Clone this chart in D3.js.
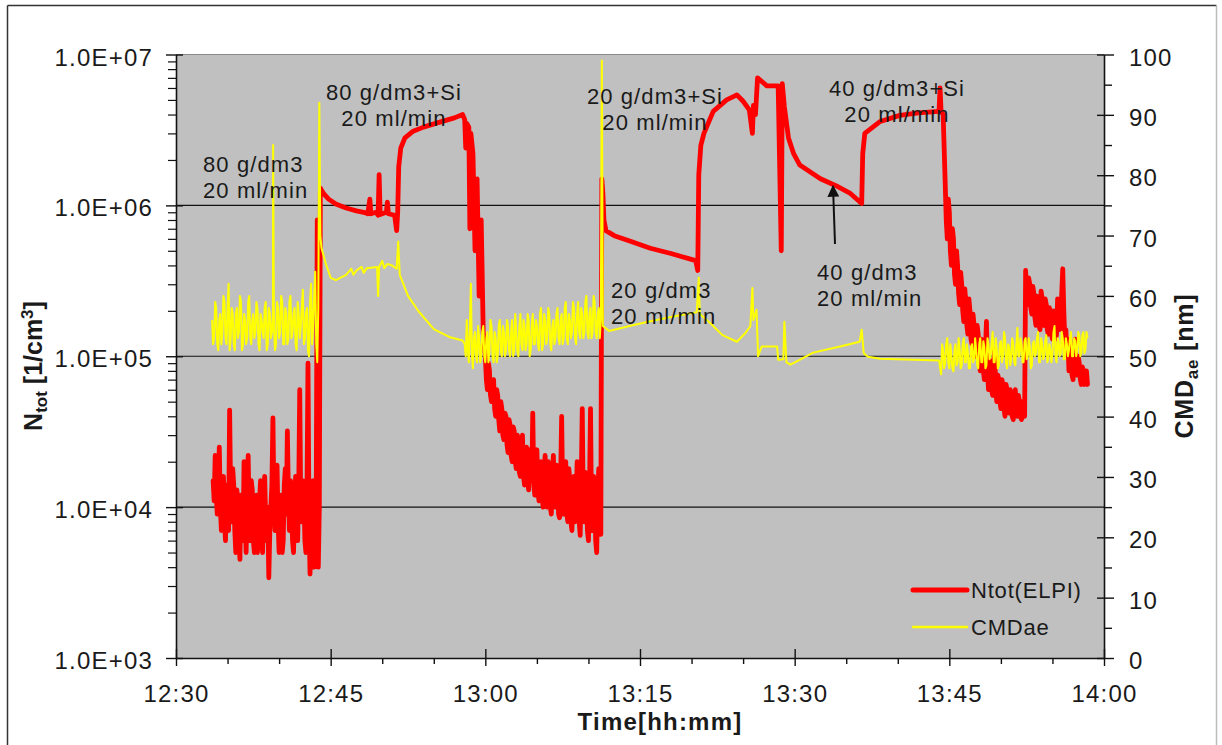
<!DOCTYPE html>
<html>
<head>
<meta charset="utf-8">
<script src="https://cdn.jsdelivr.net/npm/d3@7"></script>
<style>
  body { margin: 0; background: #fff; }
  svg text { font-family: "Liberation Sans", Arial, sans-serif; fill: #1a1a1a; }
</style>
</head>
<body>
<div id="chart"></div>
<script>
// ---- data ----
// time in minutes after 12:30
const sampleStep = 0.1; // logging interval in the noisy stretches

// Ntot(ELPI) [1/cm3]
const ntotNoiseAStart = 3.6;
const ntotNoiseA = [
  1.5e4, 1.1e4, 2.2e4, 1.2e4, 9e3, 1.4e4, 2.5e4, 1.0e4, 7e3, 1.2e4,
  1.6e4, 8e3, 6e3, 1.4e4, 1.2e4, 7e3, 4.4e4, 1.2e4, 8e3, 1.8e4,
  1.4e4, 7e3, 5e3, 1.3e4, 1.1e4, 6e3, 4.5e3, 1.2e4, 9e3, 6e3,
  2.0e4, 9e3, 5e3, 1.1e4, 2.2e4, 8e3, 6e3, 1.5e4, 1.3e4, 6e3,
  5e3, 9e3, 1.2e4, 5e3, 6e3, 1.1e4, 1.5e4, 7e3, 5e3, 1.2e4,
  1.6e4, 8e3, 6e3, 1.0e4, 3.4e3, 7e3, 1.0e4, 1.4e4, 3.9e4, 1.1e4,
  7e3, 1.3e4, 1.9e4, 8e3, 5e3, 1.0e4, 1.2e4, 5e3, 6e3, 1.4e4,
  1.8e4, 9e3, 3.2e4, 1.2e4, 7e3, 1.5e4, 1.3e4, 6e3, 5e3, 1.1e4,
  1.6e4, 8e3, 6e3, 1.3e4, 6e4, 1.0e4, 8e3, 1.5e4, 1.2e4, 6e3,
  5e3, 1.2e4, 9e4, 8e3, 3.6e3, 1.0e4, 8e3, 1.5e4, 4e3, 7e3,
  1.2e4
];
const ntotNoiseBStart = 30.0;
const ntotNoiseB = [
  1.0e5, 7e4, 6e4, 9e4, 8e4, 5.5e4, 5e4, 6.5e4, 7e4, 4.5e4,
  4e4, 6e4, 5.5e4, 3.8e4, 3.2e4, 5e4, 4.5e4, 3e4, 2.8e4, 4.2e4,
  4e4, 2.6e4, 2.3e4, 3.8e4, 3.5e4, 2.2e4, 2.0e4, 3.4e4, 3.2e4, 2e4,
  1.8e4, 3e4, 2.8e4, 1.7e4, 1.6e4, 2.6e4, 3.0e4, 1.6e4, 1.4e4, 2.2e4,
  2.5e4, 1.5e4, 1.3e4, 2.4e4, 2.2e4, 1.5e4, 4.2e4, 1.4e4, 1.2e4, 2.2e4,
  2.4e4, 1.3e4, 1.1e4, 1.9e4, 2.0e4, 1.2e4, 1.0e4, 1.8e4, 2.2e4, 1.2e4,
  1.0e4, 2.0e4, 1.8e4, 1.0e4, 9e3, 1.6e4, 2.2e4, 1.1e4, 1.0e4, 1.9e4,
  1.7e4, 9e3, 8.5e3, 1.5e4, 4e4, 1.2e4, 9e3, 1.7e4, 2e4, 9e3,
  8e3, 1.8e4, 1.5e4, 8e3, 7e3, 1.4e4, 1.6e4, 8e3, 9e3, 2.0e4,
  1.8e4, 8e3, 6.5e3, 1.5e4, 4.5e4, 1.0e4, 8e3, 1.7e4, 1.5e4, 7e3,
  6e3, 1.3e4, 4.5e4, 9e3, 7e3, 1.6e4, 1.3e4, 6e3, 5e3, 1.2e4,
  1.8e4, 8e3, 6.6e3
];
const ntotNoiseCStart = 74.6;
const ntotNoiseC = [
  1.4e6, 8e5, 6e5, 1.1e6, 9e5, 5e5, 4e5, 7e5, 6e5, 3.5e5,
  3e5, 5e5, 4e5, 2.6e5, 2.2e5, 3.6e5, 3e5, 2e5, 1.7e5, 2.8e5,
  2.3e5, 1.6e5, 1.4e5, 2.4e5, 2e5, 1.3e5, 1.2e5, 1.9e5, 1.6e5, 1.1e5,
  1.0e5, 1.6e5, 1.4e5, 9e4, 8e4, 1.3e5, 1.2e5, 8e4, 7e4, 1.1e5,
  1.7e5, 8e4, 6e4, 9.5e4, 9e4, 6e4, 5.5e4, 8e4, 1.1e5, 6e4,
  5e4, 7.5e4, 7e4, 5e4, 4.5e4, 7e4, 6.5e4, 4.5e4, 4e4, 6.5e4,
  6e4, 4.6e4, 4.2e4, 6e4, 5.5e4, 4e4, 3.8e4, 5.5e4, 6e4, 4.2e4,
  4e4, 5.5e4, 5e4, 4e4, 3.8e4, 5e4, 4.5e4, 4e4, 3.7e5, 2.4e5,
  2.2e5, 3.3e5, 3.0e5, 2.1e5, 1.9e5, 2.9e5, 2.6e5, 1.8e5, 1.6e5, 2.5e5,
  2.3e5, 1.6e5, 1.5e5, 2.7e5, 2.4e5, 1.7e5, 1.6e5, 2.4e5, 2.2e5, 1.5e5,
  1.4e5, 2.1e5, 1.9e5, 1.4e5, 1.3e5, 2.0e5, 1.8e5, 1.3e5, 1.4e5, 2.4e5,
  2.2e5, 1.5e5, 1.6e5, 2.6e5, 3.8e5, 2.0e5, 1.3e5, 1.5e5, 1.1e5, 1.3e5,
  8e4, 1.2e5, 1.0e5, 7.5e4, 7e4, 1.1e5, 1.3e5, 8e4, 7.5e4, 1.0e5,
  9e4, 7e4, 6.5e4, 8.5e4, 8e4, 6.5e4, 7e4, 8e4, 6.5e4
];
const ntotPoints = [
  [13.7, 8e5], [13.8, 4e3], [13.9, 1.0e4], [14.0, 1.3e6], [14.3, 1.2e6], [14.8, 1.1e6],
  [15.5, 1.02e6], [16.5, 9.6e5], [17.5, 9.2e5], [18.2, 9e5], [18.6, 8.8e5], [18.8, 1.1e6],
  [18.9, 8.8e5], [19.4, 9e5], [19.6, 8.6e5], [19.7, 1.6e6], [19.8, 8.7e5], [20.4, 9e5],
  [20.5, 1.05e6], [20.6, 8.8e5], [21.2, 8.6e5], [21.4, 6.8e5], [21.5, 9e5], [21.6, 1.8e6],
  [21.8, 2.4e6], [22.2, 2.8e6], [23.0, 3.1e6], [24.0, 3.3e6], [25.5, 3.55e6], [27.0, 3.8e6],
  [27.8, 4.0e6], [28.0, 3.7e6], [28.1, 2.4e6], [28.2, 3.5e6], [28.4, 3.3e6], [28.5, 7e5],
  [28.6, 3.0e6], [28.8, 2.2e6], [29.0, 5e5], [29.2, 1.5e6], [29.4, 2.5e5], [29.6, 8e5],
  [29.8, 1.4e5],
  [41.3, 1.5e6], [41.4, 1.2e6], [41.5, 8e5], [41.7, 6.8e5], [42.5, 6.3e5], [44.0, 5.8e5],
  [46.0, 5.2e5], [48.0, 4.8e5], [50.4, 4.3e5], [50.6, 3.7e5], [50.7, 1.6e6], [50.9, 2.5e6],
  [51.2, 3.0e6], [52.1, 4.2e6], [53.4, 5.0e6], [54.4, 5.4e6], [55.0, 4.9e6], [55.6, 4.3e6],
  [55.9, 3.0e6], [56.0, 4.6e6], [56.2, 4.0e6], [56.4, 7.0e6], [57.3, 6.2e6], [58.4, 6.2e6],
  [58.7, 5.0e5], [58.8, 6.4e6], [59.0, 4.5e6], [59.4, 2.8e6], [59.9, 2.2e6], [60.5, 1.85e6],
  [62.5, 1.5e6], [64.0, 1.35e6], [65.4, 1.2e6], [66.5, 1.03e6], [66.6, 2.2e6], [66.8, 3.0e6],
  [68.3, 3.6e6], [70.2, 3.95e6], [72.0, 4.1e6], [74.0, 4.2e6], [74.1, 6e6], [74.2, 4.2e6],
  [74.4, 4.0e6]
];

// CMDae [nm]
const cmdNoiseAStart = 3.5;
const cmdNoiseA = [
  56, 52, 53, 59, 58, 52, 51, 56, 57, 52,
  54, 60, 59, 53, 52, 58, 62, 51, 53, 58,
  57, 52, 51, 57, 58, 53, 54, 60, 59, 51,
  52, 57, 56, 52, 53, 59, 60, 53, 52, 56,
  57, 53, 54, 59, 58, 52, 51, 57, 56, 54,
  53, 58, 59, 51, 52, 58, 57, 53, 54, 57,
  55, 51, 52, 59, 58, 53, 54, 60, 59, 52,
  52, 58, 57, 52, 53, 59, 60, 53, 54, 57,
  58, 52, 51, 59, 57, 53, 55, 58, 61, 52,
  53, 57, 58, 51, 50, 59, 62, 52, 55, 60,
  64, 52, 49
];
const cmdNoiseBStart = 28.0;
const cmdNoiseB = [
  52, 50, 56, 51, 49, 55, 62, 50, 48, 53,
  54, 50, 49, 55, 53, 49, 50, 54, 55, 50,
  49, 53, 54, 49, 51, 56, 55, 50, 49, 54,
  53, 49, 50, 55, 56, 51, 50, 55, 54, 50,
  51, 56, 55, 51, 50, 54, 56, 50, 51, 57,
  54, 51, 50, 55, 57, 52, 51, 56, 55, 51,
  52, 57, 56, 50, 51, 55, 57, 52, 52, 56,
  55, 52, 51, 57, 58, 51, 52, 57, 56, 52,
  53, 58, 57, 52, 51, 55, 56, 52, 53, 57,
  58, 53, 52, 56, 57, 52, 53, 58, 59, 53,
  52, 57, 56, 53, 54, 59, 58, 53, 52, 57,
  59, 54, 53, 58, 57, 53, 54, 59, 60, 54,
  53, 57, 58, 53, 54, 60, 59, 54, 53, 57,
  58, 53, 56
];
const cmdNoiseCStart = 74.2;
const cmdNoiseC = [
  47, 52, 51, 48, 49, 52, 53, 49, 48, 52,
  50, 48, 47.5, 51, 52, 48.5, 49, 53, 51, 48,
  48.5, 52, 53, 49, 49, 52, 50.5, 48, 48, 51.5,
  52, 49, 49.5, 53, 51, 48.5, 48, 52, 53, 49,
  49, 52.5, 51.5, 48, 48.5, 53, 52, 49.5, 50, 52,
  54, 49, 49, 53, 51, 48, 48.5, 52, 52.5, 49,
  50, 54, 53, 49, 48, 52, 51.5, 48.5, 49.5, 53,
  52, 49, 48.5, 52, 54.7, 50, 50, 53, 52, 49,
  49, 52.5, 53, 49.5, 50, 53, 51.5, 48, 48.5, 52,
  52.5, 50, 50.5, 53, 54, 49, 49, 53, 52, 49.5,
  50, 52.5, 53.5, 49, 49.5, 52, 51, 49, 50.5, 54,
  55, 50, 49, 53, 52.5, 50, 50.5, 54, 53, 49.5,
  49.5, 53, 52, 50, 51, 53, 54, 50, 50, 53,
  52.5, 50, 51, 54, 53.5, 50, 50.5, 53.5, 54, 50.5,
  51, 54, 53
];
const cmdPoints = [
  [9.42, 85],
  [13.8, 58], [13.9, 92], [14.0, 70], [14.1, 68], [14.5, 65.5], [15.0, 63], [15.5, 62.6],
  [16.5, 63.5], [17.0, 64.5], [17.2, 63.5], [17.5, 64.2], [18.0, 64.8], [18.2, 63.8],
  [18.5, 64.6], [19.5, 64.8], [19.6, 60], [19.7, 64.8], [20.0, 65.8], [20.2, 64.6],
  [20.5, 65.3], [21.0, 65], [21.4, 64.5], [21.55, 69], [21.7, 63.5], [22.5, 60],
  [23.5, 57.5], [25.0, 54.5], [26.5, 53.2], [27.8, 52.6],
  [41.3, 99], [41.4, 55], [42.0, 54.2], [44.0, 55.0], [46.0, 55.8], [48.0, 56.5],
  [50.5, 57.3], [50.7, 63], [50.8, 57], [51.8, 55.5], [53.0, 53.5], [54.4, 52.4],
  [55.2, 53.8], [55.7, 55], [55.9, 61.3], [56.0, 56], [56.3, 57.7], [56.45, 50],
  [56.8, 51.6], [58.3, 51.6], [58.4, 49.4], [58.9, 49.5], [59.0, 55.7], [59.2, 49],
  [59.6, 48.6], [61.8, 50.6], [64.4, 51.6], [66.3, 52.4], [66.5, 54.4], [66.7, 50.5],
  [67.1, 49.9], [68.3, 49.6], [74.0, 49.3]
];

const timeTicks = ["12:30", "12:45", "13:00", "13:15", "13:30", "13:45", "14:00"];
const leftTickValues = [1e3, 1e4, 1e5, 1e6, 1e7];
const leftTickLabels = ["1.0E+03", "1.0E+04", "1.0E+05", "1.0E+06", "1.0E+07"];

const annotations = [
  {lines: ["80 g/dm3", "20 ml/min"], x: 203, y: 172, anchor: "start"},
  {lines: ["80 g/dm3+Si", "20 ml/min"], x: 394, y: 100, anchor: "middle"},
  {lines: ["20 g/dm3+Si", "20 ml/min"], x: 655, y: 104, anchor: "middle"},
  {lines: ["40 g/dm3+Si", "20 ml/min"], x: 897, y: 96, anchor: "middle"},
  {lines: ["20 g/dm3", "20 ml/min"], x: 611, y: 298, anchor: "start"},
  {lines: ["40 g/dm3", "20 ml/min"], x: 817, y: 280, anchor: "start"}
];

// ---- helpers ----
const parseTime = d3.timeParse("%H:%M");
const t0 = parseTime("12:30");
const toDate = m => new Date(t0.getTime() + m * 60000);
const expand = (start, values) => values.map((v, i) => [start + i * sampleStep, v]);

const ntotSeries = [
  ...expand(ntotNoiseAStart, ntotNoiseA),
  ...expand(ntotNoiseBStart, ntotNoiseB),
  ...expand(ntotNoiseCStart, ntotNoiseC),
  ...ntotPoints
].sort((a, b) => a[0] - b[0]);

const cmdSeries = [
  ...expand(cmdNoiseAStart, cmdNoiseA),
  ...expand(cmdNoiseBStart, cmdNoiseB),
  ...expand(cmdNoiseCStart, cmdNoiseC),
  ...cmdPoints
].sort((a, b) => a[0] - b[0]);

// ---- layout ----
const W = 1222, H = 745;
const plot = {left: 176, right: 1104, top: 54.5, bottom: 658};

const svg = d3.select("#chart").append("svg")
  .attr("width", W).attr("height", H);

// outer frame
svg.append("line").attr("x1", 7.5).attr("y1", 5.5).attr("x2", 1216.5).attr("y2", 5.5)
  .attr("stroke", "#333").attr("stroke-width", 1.5);
svg.append("line").attr("x1", 7.5).attr("y1", 5.5).attr("x2", 7.5).attr("y2", H)
  .attr("stroke", "#333").attr("stroke-width", 1.5);
svg.append("line").attr("x1", 1216.5).attr("y1", 5.5).attr("x2", 1216.5).attr("y2", H)
  .attr("stroke", "#bbb").attr("stroke-width", 1.5);

const x = d3.scaleTime()
  .domain([parseTime(timeTicks[0]), parseTime(timeTicks[timeTicks.length - 1])])
  .range([plot.left, plot.right]);
const yL = d3.scaleLog().domain([1e3, 1e7]).range([plot.bottom, plot.top]);
const yR = d3.scaleLinear().domain([0, 100]).range([plot.bottom, plot.top]);

// plot background
svg.append("rect")
  .attr("x", plot.left).attr("y", plot.top)
  .attr("width", plot.right - plot.left).attr("height", plot.bottom - plot.top)
  .attr("fill", "#c0c0c0");
svg.append("line")
  .attr("x1", plot.left).attr("x2", plot.right).attr("y1", plot.top).attr("y2", plot.top)
  .attr("stroke", "#8a8a8a").attr("stroke-width", 1);

// gridlines
svg.append("g").selectAll("line")
  .data(leftTickValues.slice(1, -1))
  .join("line")
  .attr("x1", plot.left).attr("x2", plot.right)
  .attr("y1", d => yL(d)).attr("y2", d => yL(d))
  .attr("stroke", "#111").attr("stroke-width", 1.2);

// series
const lineN = d3.line().x(d => x(toDate(d[0]))).y(d => yL(d[1]));
const lineC = d3.line().x(d => x(toDate(d[0]))).y(d => yR(d[1]));

svg.append("path").datum(ntotSeries)
  .attr("d", lineN).attr("fill", "none")
  .attr("stroke", "#ff0000").attr("stroke-width", 4.8)
  .attr("stroke-linejoin", "round").attr("stroke-linecap", "round");

svg.append("path").datum(cmdSeries)
  .attr("d", lineC).attr("fill", "none")
  .attr("stroke", "#ffff00").attr("stroke-width", 2)
  .attr("stroke-linejoin", "round");

// axes
function styleAxis(g) {
  g.attr("font-family", null).attr("font-size", null);
  g.select(".domain").attr("stroke", "#111").attr("stroke-width", 1.6);
  g.selectAll(".tick line").attr("stroke", "#111").attr("stroke-width", 1.4);
  g.selectAll("text").style("font-size", "24px").style("letter-spacing", "1.2px");
}

// x axis
const minorMinutes = d3.range(5, 90, 5).filter(m => m % 15 !== 0);
svg.append("g")
  .attr("transform", `translate(0,${plot.bottom})`)
  .call(d3.axisBottom(x).tickValues(minorMinutes.map(toDate)).tickFormat("").tickSize(6).tickSizeOuter(0))
  .call(g => { g.select(".domain").remove(); g.selectAll("line").attr("stroke", "#111").attr("stroke-width", 1.4); });
const xAxisG = svg.append("g")
  .attr("transform", `translate(0,${plot.bottom})`)
  .call(d3.axisBottom(x).tickValues(timeTicks.map(parseTime)).tickFormat(d3.timeFormat("%H:%M")).tickSizeOuter(0))
  .call(styleAxis);
xAxisG.selectAll(".tick line").attr("y1", -9).attr("y2", 8);
xAxisG.selectAll(".tick text").attr("y", 27).attr("dy", "0.71em");

// left axis
const leftMinor = [];
leftTickValues.slice(0, -1).forEach(p => { for (let k = 2; k <= 9; k++) leftMinor.push(p * k); });
svg.append("g")
  .attr("transform", `translate(${plot.left},0)`)
  .call(d3.axisLeft(yL).tickValues(leftMinor).tickFormat("").tickSize(8).tickSizeOuter(0))
  .call(g => { g.select(".domain").remove(); g.selectAll("line").attr("stroke", "#111").attr("stroke-width", 1.2); });
const yLAxisG = svg.append("g")
  .attr("transform", `translate(${plot.left},0)`)
  .call(d3.axisLeft(yL).tickValues(leftTickValues).tickFormat((d, i) => leftTickLabels[i]).tickSizeOuter(0))
  .call(styleAxis);
yLAxisG.selectAll(".tick line").attr("x1", 7).attr("x2", -10);
yLAxisG.selectAll(".tick text").attr("x", -23).attr("dy", "0.44em");

// right axis
svg.append("g")
  .attr("transform", `translate(${plot.right},0)`)
  .call(d3.axisRight(yR).tickValues(d3.range(5, 100, 10)).tickFormat("").tickSize(8).tickSizeOuter(0))
  .call(g => { g.select(".domain").remove(); g.selectAll("line").attr("stroke", "#111").attr("stroke-width", 1.4); });
const yRAxisG = svg.append("g")
  .attr("transform", `translate(${plot.right},0)`)
  .call(d3.axisRight(yR).tickValues(d3.range(0, 101, 10)).tickSizeOuter(0))
  .call(styleAxis);
yRAxisG.selectAll(".tick line").attr("x1", -7).attr("x2", 10);
yRAxisG.selectAll(".tick text").attr("x", 25).attr("dy", "0.44em");

// axis titles
svg.append("text")
  .attr("x", 660).attr("y", 730)
  .attr("text-anchor", "middle")
  .style("font-size", "24px").style("font-weight", "bold").style("letter-spacing", "1.2px")
  .text("Time[hh:mm]");

const leftTitle = svg.append("text")
  .attr("transform", "translate(42,366) rotate(-90)")
  .attr("text-anchor", "middle")
  .style("font-size", "25px").style("font-weight", "bold");
leftTitle.append("tspan").text("N");
leftTitle.append("tspan").attr("dy", 5).style("font-size", "17px").text("tot");
leftTitle.append("tspan").attr("dy", -5).text(" [1/cm");
leftTitle.append("tspan").attr("dy", -9).style("font-size", "17px").text("3");
leftTitle.append("tspan").attr("dy", 9).text("]");

const rightTitle = svg.append("text")
  .attr("transform", "translate(1193,366) rotate(-90)")
  .attr("text-anchor", "middle")
  .style("font-size", "25px").style("font-weight", "bold").style("letter-spacing", "0.8px");
rightTitle.append("tspan").text("CMD");
rightTitle.append("tspan").attr("dy", 5).style("font-size", "17px").text("ae");
rightTitle.append("tspan").attr("dy", -5).text(" [nm]");

// annotations
annotations.forEach(a => {
  const t = svg.append("text")
    .attr("text-anchor", a.anchor)
    .style("font-size", "22px").style("letter-spacing", "1.1px");
  a.lines.forEach((ln, i) => {
    t.append("tspan").attr("x", a.x).attr("y", a.y + i * 26).text(ln);
  });
});

// arrow to the 40 g/dm3 point
svg.append("defs").append("marker")
  .attr("id", "arrowHead").attr("viewBox", "0 0 10 10")
  .attr("refX", 9).attr("refY", 5)
  .attr("markerWidth", 6).attr("markerHeight", 6)
  .attr("orient", "auto")
  .append("path").attr("d", "M0,0L10,5L0,10Z").attr("fill", "#111");
svg.append("line")
  .attr("x1", 835).attr("y1", 244).attr("x2", 833).attr("y2", 186)
  .attr("stroke", "#111").attr("stroke-width", 2)
  .attr("marker-end", "url(#arrowHead)");

// legend
const legendItems = [
  {name: "Ntot(ELPI)", color: "#ff0000", width: 5},
  {name: "CMDae", color: "#ffff00", width: 2.5}
];
const legend = svg.append("g").attr("transform", "translate(913,590)");
legendItems.forEach((it, i) => {
  const gy = i * 37;
  legend.append("line")
    .attr("x1", 0).attr("x2", 54).attr("y1", gy).attr("y2", gy)
    .attr("stroke", it.color).attr("stroke-width", it.width)
    .attr("stroke-linecap", "round");
  legend.append("text")
    .attr("x", 58).attr("y", gy + 8)
    .style("font-size", "22px").style("letter-spacing", "0.8px")
    .text(it.name);
});
</script>
</body>
</html>
